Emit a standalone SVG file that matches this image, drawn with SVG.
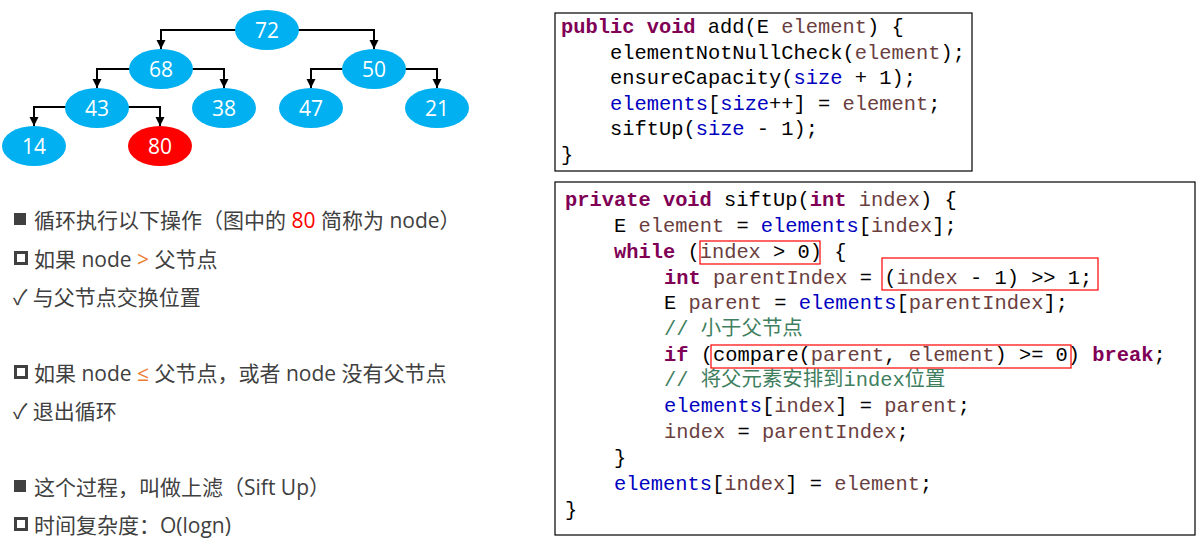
<svg xmlns="http://www.w3.org/2000/svg" width="1204" height="553" viewBox="0 0 1204 553">
<style>
.n{fill:#00b0f0}.r{fill:#ff0000}
.nt{font-family:"Open Sans","Liberation Sans",sans-serif;font-size:21px;fill:#fff;text-anchor:middle}
.t{font-family:"Open Sans","Noto Sans CJK SC",sans-serif;font-size:21px;fill:#404040}
.c{font-family:"Liberation Mono","Noto Sans CJK SC",monospace;font-size:20.4px;fill:#000}
.k{fill:#7f0055;font-weight:bold}.f{fill:#0000c0}.v{fill:#6a3e3e}.cm{fill:#3f7f5f}
.ln{stroke:#000;stroke-width:2;fill:none}
.hb{fill:none;stroke:#ff0000;stroke-width:1.2}
</style>
<defs><marker id="a" markerWidth="10" markerHeight="10" refX="9" refY="4.5" orient="auto" markerUnits="userSpaceOnUse"><path d="M0,0 L9,4.5 L0,9 Z" fill="#000"/></marker></defs>
<rect width="1204" height="553" fill="#fff"/>
<g id="connectors">
<path class="ln" d="M236,30 H161 V49" marker-end="url(#a)"/>
<path class="ln" d="M298,30 H374 V49" marker-end="url(#a)"/>
<path class="ln" d="M130,69 H97 V88" marker-end="url(#a)"/>
<path class="ln" d="M192,69 H224 V88" marker-end="url(#a)"/>
<path class="ln" d="M343,69 H311 V88" marker-end="url(#a)"/>
<path class="ln" d="M405,69 H437 V88" marker-end="url(#a)"/>
<path class="ln" d="M66,107 H34 V126" marker-end="url(#a)"/>
<path class="ln" d="M128,107 H160 V126" marker-end="url(#a)"/>
</g>
<g id="n72"><ellipse class="n" cx="267" cy="30" rx="32" ry="20"/><text class="nt" x="267" y="38">72</text></g>
<g id="n68"><ellipse class="n" cx="161" cy="69" rx="32" ry="20"/><text class="nt" x="161" y="77">68</text></g>
<g id="n50"><ellipse class="n" cx="374" cy="69" rx="32" ry="20"/><text class="nt" x="374" y="77">50</text></g>
<g id="n43"><ellipse class="n" cx="97" cy="108" rx="32" ry="20"/><text class="nt" x="97" y="116">43</text></g>
<g id="n38"><ellipse class="n" cx="224" cy="108" rx="32" ry="20"/><text class="nt" x="224" y="116">38</text></g>
<g id="n47"><ellipse class="n" cx="311" cy="108" rx="32" ry="20"/><text class="nt" x="311" y="116">47</text></g>
<g id="n21"><ellipse class="n" cx="437" cy="108" rx="32" ry="20"/><text class="nt" x="437" y="116">21</text></g>
<g id="n14"><ellipse class="n" cx="34" cy="146" rx="32" ry="20"/><text class="nt" x="34" y="154">14</text></g>
<g id="n80"><ellipse class="r" cx="160" cy="146" rx="32" ry="20"/><text class="nt" x="160" y="154">80</text></g>
<g id="bullets">
<rect x="14" y="213" width="12" height="12" fill="#404040"/>
<text class="t" x="34" y="228">循环执行以下操作（图中的 <tspan fill="#ff0000">80</tspan> 简称为 node）</text>
<rect x="15.5" y="252.5" width="11" height="11" fill="none" stroke="#404040" stroke-width="3"/>
<text class="t" x="34" y="267">如果 node <tspan fill="#ed7d31">&gt;</tspan> 父节点</text>
<text class="t" x="13" y="305">✓ 与父节点交换位置</text>
<rect x="15.5" y="366.5" width="11" height="11" fill="none" stroke="#404040" stroke-width="3"/>
<text class="t" x="34" y="381">如果 node <tspan fill="#ed7d31">≤</tspan> 父节点，或者 node 没有父节点</text>
<text class="t" x="13" y="419">✓ 退出循环</text>
<rect x="14" y="480" width="12" height="12" fill="#404040"/>
<text class="t" x="34" y="495">这个过程，叫做上滤（Sift Up）</text>
<rect x="15.5" y="518.5" width="11" height="11" fill="none" stroke="#404040" stroke-width="3"/>
<text class="t" x="34" y="533">时间复杂度：O(logn)</text>
</g>
<g id="addBox">
<rect x="555" y="13" width="417" height="158" fill="#fff" stroke="#000" stroke-width="1.2"/>
<text class="c" x="561" y="33"><tspan class="k">public void</tspan> add(E <tspan class="v">element</tspan>) {</text>
<text class="c" x="610" y="59">elementNotNullCheck(<tspan class="v">element</tspan>);</text>
<text class="c" x="610" y="84">ensureCapacity(<tspan class="f">size</tspan> + 1);</text>
<text class="c" x="610" y="110"><tspan class="f">elements</tspan>[<tspan class="f">size</tspan>++] = <tspan class="v">element</tspan>;</text>
<text class="c" x="610" y="135">siftUp(<tspan class="f">size</tspan> - 1);</text>
<text class="c" x="561" y="161">}</text>
</g>
<g id="siftUpBox">
<rect x="555" y="182" width="640" height="353" fill="#fff" stroke="#000" stroke-width="1.2"/>
<text class="c" x="565" y="206"><tspan class="k">private void</tspan> siftUp(<tspan class="k">int</tspan> <tspan class="v">index</tspan>) {</text>
<text class="c" x="614" y="232">E <tspan class="v">element</tspan> = <tspan class="f">elements</tspan>[<tspan class="v">index</tspan>];</text>
<text class="c" x="614" y="258"><tspan class="k">while</tspan> (<tspan class="v">index</tspan> &gt; 0) {</text>
<text class="c" x="664" y="284"><tspan class="k">int</tspan> <tspan class="v">parentIndex</tspan> = (<tspan class="v">index</tspan> - 1) &gt;&gt; 1;</text>
<text class="c" x="664" y="309">E <tspan class="v">parent</tspan> = <tspan class="f">elements</tspan>[<tspan class="v">parentIndex</tspan>];</text>
<text class="c cm" x="664" y="335">// 小于父节点</text>
<text class="c" x="664" y="361"><tspan class="k">if</tspan> (compare(<tspan class="v">parent</tspan>, <tspan class="v">element</tspan>) &gt;= 0) <tspan class="k">break</tspan>;</text>
<text class="c cm" x="664" y="386">// 将父元素安排到index位置</text>
<text class="c" x="664" y="412"><tspan class="f">elements</tspan>[<tspan class="v">index</tspan>] = <tspan class="v">parent</tspan>;</text>
<text class="c" x="664" y="438"><tspan class="v">index</tspan> = <tspan class="v">parentIndex</tspan>;</text>
<text class="c" x="614" y="464">}</text>
<text class="c" x="614" y="490"><tspan class="f">elements</tspan>[<tspan class="v">index</tspan>] = <tspan class="v">element</tspan>;</text>
<text class="c" x="565" y="516">}</text>
<rect class="hb" x="700" y="241" width="120" height="23"/>
<rect class="hb" x="882" y="258" width="216" height="32"/>
<rect class="hb" x="711" y="345" width="360" height="23"/>
</g>
</svg>
